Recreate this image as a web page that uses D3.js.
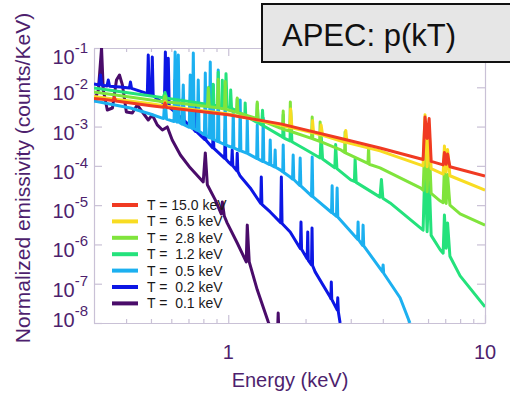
<!DOCTYPE html>
<html>
<head>
<meta charset="utf-8">
<script src="https://cdn.jsdelivr.net/npm/d3@7"></script>
<style>
  html, body { margin: 0; padding: 0; background: #fff; }
  svg { display: block; font-family: "Liberation Sans", Arial, Helvetica, sans-serif; }
</style>
</head>
<body>
<svg id="chart" width="510" height="396"></svg>
<script>
// Plasma temperatures (keV) shown in the legend, hottest first
const temperatureLabels = ["15.0", "6.5", "2.8", "1.2", "0.5", "0.2", "0.1"];
const seriesColors = ["#f03a22", "#f8dc22", "#80e43c", "#24e27c", "#1cb0f0", "#0c16e4", "#4a0c6a"];

// Axis ticks
const xMajorTicks = [1, 10];
const xMinorTicks = [0.4, 0.5, 0.6, 0.7, 0.8, 0.9, 2, 3, 4, 5, 6, 7, 8, 9];
const yTickExponents = [-1, -2, -3, -4, -5, -6, -7, -8];

// Spectra: [energy (keV), normalized emissivity (counts/keV)]
const spec_15_0 = [
  [0.30, 5.2e-3], [0.33, 4.9e-3], [0.355, 4.6e-3], [0.36, 5.5e-3], [0.365, 4.5e-3],
  [0.50, 3.4e-3], [0.56, 3.1e-3], [0.567, 4.0e-3], [0.575, 3.05e-3], [1.0, 2.0e-3],
  [1.6, 1.17e-3], [2.7, 5.1e-4], [3.9, 2.85e-4], [5.74, 1.45e-4], [5.84, 1.75e-3],
  [5.95, 5.0e-4], [6.06, 1.6e-3], [6.17, 1.3e-4], [6.87, 1.06e-4], [6.95, 2.2e-4],
  [7.06, 1.1e-4], [7.15, 2.0e-4], [7.3, 9.5e-5], [10, 5.5e-5]
];
const spec_6_5 = [
  [0.30, 5.8e-3], [0.50, 3.8e-3], [0.56, 3.4e-3], [0.567, 4.3e-3], [0.575, 3.3e-3],
  [1.0, 2.1e-3], [1.6, 1.1e-3], [1.74, 9.5e-4], [1.75, 2.8e-3], [1.77, 9.3e-4],
  [2.12, 7.0e-4], [2.13, 1.4e-3], [2.15, 6.9e-4], [2.28, 6.2e-4], [2.3, 1.1e-3],
  [2.33, 6.0e-4], [2.85, 4.0e-4], [2.87, 8.0e-4], [2.9, 3.9e-4], [3.9, 2.4e-4],
  [5.74, 1.0e-4], [5.84, 2.0e-3], [5.95, 9.5e-5], [6.06, 8.0e-4], [6.17, 8.5e-5],
  [6.87, 6.2e-5], [6.95, 3.2e-4], [7.06, 7.0e-5], [7.15, 2.6e-4], [7.3, 5.6e-5],
  [10, 2.4e-5]
];
const spec_2_8 = [
  [0.30, 7.6e-3], [0.50, 4.75e-3], [0.558, 4.3e-3], [0.567, 6.0e-3], [0.576, 4.2e-3],
  [0.651, 3.9e-3], [0.778, 3.4e-3], [0.83, 3.25e-3], [0.836, 9.6e-3], [0.843, 3.2e-3],
  [0.908, 3.0e-3], [0.914, 1.6e-2], [0.92, 2.95e-3], [0.967, 2.8e-3], [0.973, 1.4e-2],
  [0.979, 2.75e-3], [1.0, 2.64e-3], [1.078, 2.3e-3], [1.084, 5.3e-3], [1.09, 2.25e-3],
  [1.29, 1.6e-3], [1.297, 4.2e-3], [1.305, 1.55e-3], [1.593, 9.2e-4], [1.63, 8.6e-4],
  [1.637, 2.5e-3], [1.645, 8.4e-4], [1.735, 7.7e-4], [1.745, 4.2e-3], [1.755, 7.5e-4],
  [2.11, 5.0e-4], [2.123, 1.75e-3], [2.135, 4.9e-4], [2.27, 4.2e-4], [2.28, 1.3e-3],
  [2.29, 4.15e-4], [2.727, 2.6e-4], [2.84, 2.2e-4], [2.851, 7.3e-4], [2.862, 2.15e-4],
  [3.5, 1.15e-4], [3.52, 3.0e-4], [3.54, 1.1e-4], [3.9, 8.9e-5], [5.6, 2.74e-5],
  [5.74, 2.4e-5], [5.84, 4.5e-4], [5.95, 2.2e-5], [6.06, 3.5e-4], [6.17, 2.0e-5],
  [6.7, 1.27e-5], [6.87, 1.15e-5], [6.95, 9.4e-5], [7.06, 1.1e-5], [7.15, 6.0e-5],
  [7.3, 1.0e-5], [8.0, 6.0e-6], [10, 3.1e-6]
];
const spec_1_2 = [
  [0.30, 9.6e-3], [0.50, 6.0e-3], [0.558, 5.4e-3], [0.567, 7.4e-3], [0.576, 5.3e-3],
  [0.80, 3.8e-3], [0.836, 3.6e-3], [0.84, 1.0e-2], [0.845, 3.6e-3], [0.87, 3.5e-3],
  [0.874, 1.2e-2], [0.88, 3.5e-3], [0.91, 3.4e-3], [0.914, 2.4e-2], [0.92, 3.3e-3],
  [0.945, 3.3e-3], [0.948, 1.5e-2], [0.955, 3.2e-3], [0.975, 3.2e-3], [0.98, 2.2e-2],
  [0.99, 3.2e-3], [1.018, 3.0e-3], [1.022, 8.5e-3], [1.03, 2.9e-3], [1.08, 2.5e-3],
  [1.084, 5.0e-3], [1.09, 2.4e-3], [1.16, 1.9e-3], [1.164, 4.0e-3], [1.17, 1.85e-3],
  [1.29, 1.3e-3], [1.297, 3.8e-3], [1.31, 1.25e-3], [1.35, 1.1e-3], [1.36, 2.6e-3],
  [1.37, 1.05e-3], [1.6, 5.8e-4], [1.63, 5.3e-4], [1.637, 2.0e-3], [1.65, 5.1e-4],
  [1.74, 4.3e-4], [1.75, 2.6e-3], [1.77, 4.1e-4], [2.0, 2.6e-4], [2.28, 1.59e-4],
  [2.3, 6.5e-4], [2.33, 1.5e-4], [2.6, 9.0e-5], [2.62, 3.5e-4], [2.65, 8.5e-5],
  [3.0, 4.4e-5], [3.1, 4.0e-5], [3.12, 1.5e-4], [3.15, 3.8e-5], [3.9, 1.6e-5],
  [3.95, 4.5e-5], [4.0, 1.5e-5], [4.27, 1.14e-5], [5.6, 2.63e-6], [5.74, 2.3e-6],
  [5.84, 1.2e-4], [5.95, 2.1e-6], [6.06, 5.0e-5], [6.17, 1.7e-6], [6.7, 7.2e-7],
  [6.87, 6.0e-7], [6.95, 5.6e-6], [7.06, 8.0e-7], [7.15, 3.5e-6], [7.3, 5.0e-7],
  [8.0, 1.58e-7], [10, 2.57e-8]
];
const spec_0_5 = [
  [0.30, 4.5e-3], [0.416, 2.97e-3], [0.497, 2.09e-3], [0.56, 1.6e-3], [0.567, 5.7e-3],
  [0.575, 1.55e-3], [0.615, 1.35e-3], [0.621, 7.9e-2], [0.627, 1.35e-3], [0.633, 1.3e-3],
  [0.639, 6.6e-2], [0.645, 1.28e-3], [0.662, 1.15e-3], [0.668, 1.15e-2], [0.674, 1.1e-3],
  [0.705, 9.6e-4], [0.711, 2.06e-2], [0.717, 9.4e-4], [0.725, 9.0e-4], [0.731, 7.5e-2],
  [0.737, 8.8e-4], [0.758, 8.0e-4], [0.764, 1.53e-2], [0.77, 7.6e-4], [0.808, 6.2e-4],
  [0.814, 2.3e-2], [0.82, 6.0e-4], [0.845, 5.2e-4], [0.851, 4.4e-2], [0.857, 5.1e-4],
  [0.868, 4.8e-4], [0.874, 1.15e-2], [0.88, 4.7e-4], [0.908, 4.2e-4], [0.914, 2.75e-2],
  [0.92, 4.1e-4], [0.967, 3.5e-4], [0.973, 6.4e-3], [0.979, 3.4e-4], [1.0, 3.2e-4],
  [1.04, 2.9e-4], [1.046, 2.64e-3], [1.052, 2.85e-4], [1.107, 2.45e-4], [1.113, 4.75e-3],
  [1.12, 2.4e-4], [1.18, 2.1e-4], [1.186, 1.47e-3], [1.193, 2.05e-4], [1.29, 1.55e-4],
  [1.297, 1.1e-3], [1.305, 1.5e-4], [1.36, 1.3e-4], [1.368, 1.66e-3], [1.376, 1.28e-4],
  [1.45, 1.08e-4], [1.457, 4.56e-4], [1.465, 1.06e-4], [1.515, 9.4e-5], [1.523, 2.54e-4],
  [1.53, 9.2e-5], [1.593, 7.9e-5], [1.63, 7.0e-5], [1.637, 3.4e-4], [1.645, 6.8e-5],
  [1.743, 5.2e-5], [1.78, 4.6e-5], [1.79, 1.89e-4], [1.80, 4.5e-5], [1.895, 3.2e-5],
  [1.906, 1.59e-4], [1.917, 3.1e-5], [2.09, 1.82e-5], [2.11, 1.7e-5], [2.123, 1.68e-4],
  [2.135, 1.65e-5], [2.525, 6.5e-6], [2.539, 3.1e-5], [2.55, 6.3e-6], [2.64, 5.2e-6],
  [2.655, 2.74e-5], [2.67, 5.0e-6], [3.19, 1.35e-6], [3.204, 3.7e-6], [3.22, 1.3e-6],
  [3.335, 9.5e-7], [3.351, 3.1e-6], [3.37, 9.2e-7], [3.99, 2.0e-7], [4.01, 3.0e-7],
  [4.03, 1.85e-7], [4.67, 4.4e-8], [5.1, 1.0e-8]
];
const spec_0_2 = [
  [0.30, 1.21e-2], [0.314, 1.15e-2], [0.318, 2.06e-2], [0.322, 1.12e-2], [0.337, 1.08e-2],
  [0.341, 1.53e-2], [0.345, 1.06e-2], [0.38, 1.02e-2], [0.412, 9.6e-3], [0.416, 1.36e-2],
  [0.42, 9.4e-3], [0.475, 7.2e-3], [0.484, 7.0e-3], [0.488, 6.6e-2], [0.492, 6.8e-3],
  [0.502, 6.4e-3], [0.506, 5.9e-2], [0.51, 6.2e-3], [0.535, 4.75e-3], [0.564, 3.9e-3],
  [0.569, 7.9e-2], [0.574, 3.8e-3], [0.579, 3.6e-3], [0.584, 5.5e-2], [0.589, 3.4e-3],
  [0.595, 2.97e-3], [0.616, 2.45e-3], [0.621, 1.53e-2], [0.626, 2.3e-3], [0.663, 1.5e-3],
  [0.668, 5.3e-3], [0.673, 1.45e-3], [0.706, 1.06e-3], [0.711, 4.75e-3], [0.716, 1.02e-3],
  [0.746, 7.5e-4], [0.751, 3.16e-3], [0.756, 7.2e-4], [0.809, 4.7e-4], [0.814, 1.47e-3],
  [0.819, 4.5e-4], [0.869, 2.9e-4], [0.874, 8.2e-4], [0.879, 2.8e-4], [0.968, 1.55e-4],
  [0.973, 8.2e-4], [0.978, 1.5e-4], [1.0, 1.26e-4], [1.03, 1.05e-4], [1.036, 2.54e-4],
  [1.042, 1.0e-4], [1.078, 7.6e-5], [1.084, 2.1e-4], [1.09, 7.2e-5], [1.113, 5.5e-5],
  [1.218, 2.74e-5], [1.338, 1.1e-5], [1.345, 5.2e-5], [1.352, 1.05e-5], [1.457, 6.7e-6],
  [1.60, 3.6e-6], [1.61, 5.2e-5], [1.62, 3.4e-6], [1.743, 2.08e-6], [1.91, 7.8e-7],
  [1.92, 3.7e-6], [1.93, 7.5e-7], [2.029, 4.3e-7], [2.04, 2.08e-6], [2.05, 3.9e-7],
  [2.11, 3.0e-7], [2.12, 2.63e-6], [2.13, 2.9e-7], [2.18, 2.0e-7], [2.494, 4.6e-8],
  [2.51, 4.2e-8], [2.52, 1.11e-7], [2.53, 4.0e-8], [2.655, 2.15e-8], [2.67, 4.4e-8],
  [2.685, 1.9e-8], [2.727, 1.0e-8]
];
const spec_0_1 = [
  [0.30, 4.2e-3], [0.312, 8.5e-3], [0.321, 1.0e-1], [0.326, 8.5e-3], [0.338, 2.64e-3],
  [0.354, 2.97e-3], [0.367, 1.53e-2], [0.377, 2.06e-2], [0.387, 1.15e-2], [0.401, 2.35e-3],
  [0.423, 2.22e-3], [0.442, 3.55e-3], [0.463, 2.35e-3], [0.488, 1.47e-3], [0.506, 1.97e-3],
  [0.529, 1.1e-3], [0.554, 8.2e-4], [0.579, 9.8e-4], [0.605, 4.56e-4], [0.651, 1.89e-4],
  [0.711, 8.9e-5], [0.799, 3.9e-5], [0.814, 2.13e-4], [0.829, 3.3e-5], [0.89, 1.36e-5],
  [0.939, 6.0e-6], [0.948, 1.2e-5], [0.965, 5.3e-6], [0.991, 3.5e-6], [1.084, 1.09e-6],
  [1.175, 3.6e-7], [1.186, 3.1e-6], [1.207, 3.6e-7], [1.297, 7.0e-8], [1.431, 1.07e-8],
  [1.5, 5.0e-9], [1.55, 3.0e-9], [1.565, 1.8e-8], [1.58, 3.0e-9]
];

const spectra = [spec_15_0, spec_6_5, spec_2_8, spec_1_2, spec_0_5, spec_0_2, spec_0_1];

const frameColor = "#c9c1d6";
const labelColor = "#4e1f6e";

const svg = d3.select("#chart");
const plot = { left: 94, right: 485, top: 48, bottom: 323 };

const x = d3.scaleLog().domain([0.3, 10]).range([plot.left, plot.right]);
const y = d3.scaleLog().domain([1e-8, 1e-1]).range([plot.bottom, plot.top]);

svg.append("defs").append("clipPath").attr("id", "plot-clip")
  .append("rect")
  .attr("x", plot.left).attr("y", plot.top)
  .attr("width", plot.right - plot.left).attr("height", plot.bottom - plot.top);

// Frame and inward ticks on all four sides
function styleAxis(g) {
  g.select(".domain").attr("stroke", frameColor).attr("stroke-width", 1.2);
  g.selectAll(".tick line").attr("stroke", frameColor).attr("stroke-width", 1.2);
  g.selectAll(".tick text").remove();
}
const yDecades = yTickExponents.map(e => Math.pow(10, e));

svg.append("g").attr("transform", `translate(${plot.left},0)`)
  .call(d3.axisLeft(y).tickValues(yDecades).tickSize(-8).tickSizeOuter(0).tickFormat(""))
  .call(styleAxis);
svg.append("g").attr("transform", `translate(${plot.right},0)`)
  .call(d3.axisRight(y).tickValues(yDecades).tickSize(-8).tickSizeOuter(0).tickFormat(""))
  .call(styleAxis);
svg.append("g").attr("transform", `translate(0,${plot.bottom})`)
  .call(d3.axisBottom(x).tickValues(xMajorTicks).tickSize(-8).tickSizeOuter(0).tickFormat(""))
  .call(styleAxis);
svg.append("g").attr("transform", `translate(0,${plot.bottom})`)
  .call(d3.axisBottom(x).tickValues(xMinorTicks).tickSize(-4).tickSizeOuter(0).tickFormat(""))
  .call(styleAxis);
svg.append("g").attr("transform", `translate(0,${plot.top})`)
  .call(d3.axisTop(x).tickValues(xMajorTicks).tickSize(-8).tickSizeOuter(0).tickFormat(""))
  .call(styleAxis);
svg.append("g").attr("transform", `translate(0,${plot.top})`)
  .call(d3.axisTop(x).tickValues(xMinorTicks).tickSize(-4).tickSizeOuter(0).tickFormat(""))
  .call(styleAxis);

// Y tick labels as powers of ten
yTickExponents.forEach(e => {
  const yy = Math.min(327, Math.max(64, y(Math.pow(10, e)) + 13));
  const t = svg.append("text")
    .attr("x", 88).attr("y", yy)
    .attr("text-anchor", "end")
    .attr("fill", labelColor)
    .attr("font-size", 20);
  t.append("tspan").text("10");
  t.append("tspan").attr("font-size", 15).attr("dy", -11).text(String(e));
});

// X tick labels
svg.selectAll(".xlab").data(xMajorTicks).enter().append("text")
  .attr("class", "xlab")
  .attr("x", d => x(d)).attr("y", 359)
  .attr("text-anchor", "middle")
  .attr("fill", labelColor).attr("font-size", 20)
  .text(d => d);

// Axis titles
svg.append("text")
  .attr("x", 290).attr("y", 387)
  .attr("text-anchor", "middle")
  .attr("fill", labelColor).attr("font-size", 20)
  .text("Energy (keV)");
svg.append("text")
  .attr("transform", "translate(30,178) rotate(-90)")
  .attr("text-anchor", "middle")
  .attr("fill", labelColor).attr("font-size", 21)
  .text("Normalized emissivity (counts/KeV)");

// Spectra, coolest drawn first so the hottest sits on top
const line = d3.line().x(d => x(d[0])).y(d => y(d[1]));
const curves = svg.append("g").attr("clip-path", "url(#plot-clip)");
for (let i = spectra.length - 1; i >= 0; i--) {
  curves.append("path")
    .datum(spectra[i])
    .attr("d", line)
    .attr("fill", "none")
    .attr("stroke", seriesColors[i])
    .attr("stroke-width", 3)
    .attr("stroke-linejoin", "round")
    .attr("stroke-linecap", "butt");
}

// Legend
const legend = svg.append("g");
temperatureLabels.forEach((t, i) => {
  const ly = 205 + i * 16.4;
  legend.append("line")
    .attr("x1", 112).attr("x2", 138).attr("y1", ly).attr("y2", ly)
    .attr("stroke", seriesColors[i]).attr("stroke-width", 4);
  legend.append("text")
    .attr("x", 147).attr("y", ly + 5)
    .attr("font-size", 14).attr("fill", "#1a1a1a")
    .style("white-space", "pre")
    .text("T = " + (t.length < 4 ? " " : "") + t + " keV");
});

// Title box
svg.append("rect")
  .attr("x", 262).attr("y", 4).attr("width", 270).attr("height", 58)
  .attr("fill", "#e6e6e6").attr("stroke", "#111").attr("stroke-width", 2);
svg.append("text")
  .attr("x", 282).attr("y", 46)
  .attr("font-size", 31).attr("fill", "#111")
  .text("APEC: p(kT)");
</script>
</body>
</html>
